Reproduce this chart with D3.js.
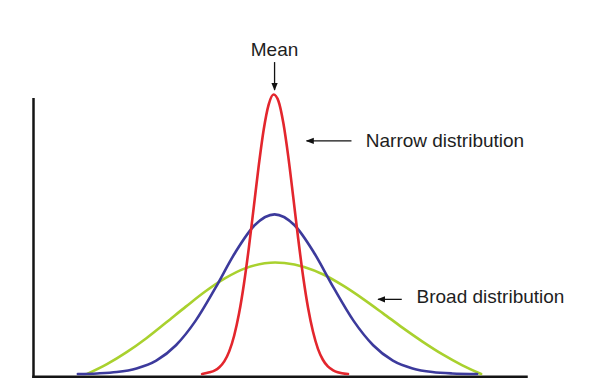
<!DOCTYPE html>
<html>
<head>
<meta charset="utf-8">
<script src="https://cdn.jsdelivr.net/npm/d3@7/dist/d3.min.js"></script>
<style>
  html, body { margin: 0; padding: 0; background: #fff; }
  svg { display: block; }
  text { font-family: "Liberation Sans", Arial, Helvetica, sans-serif; fill: #1e1e1e; }
</style>
</head>
<body>
<svg id="chart" width="596" height="383"></svg>
<script>
// ---- data ----
const narrowX = [34.3, 35.8, 36.8, 37.8, 38.8, 39.8, 40.8, 41.8, 42.8, 43.8, 44.8, 45.8, 46.8, 47.8, 48.8, 49.8, 50.8, 51.8, 52.8, 53.8, 54.8, 55.8, 56.8, 57.8, 58.8, 59.8, 60.8, 61.8, 63.9];
const narrowY = [0, 0.6, 1.2, 2.4, 4.5, 8.1, 13.7, 21.7, 32.4, 45.4, 60.0, 74.7, 87.5, 96.4, 100, 97.6, 89.6, 77.5, 63.1, 48.3, 34.8, 23.6, 15.1, 9.0, 5.1, 2.7, 1.4, 0.6, 0];

const mediumX = [9.1, 13, 17, 21, 25, 29, 33, 37, 41, 45, 49, 53, 57, 61, 65, 69, 73, 77, 81, 85, 90.1];
const mediumY = [0, 0.2, 0.7, 2.0, 4.8, 10.3, 19.1, 30.8, 43.4, 53.3, 57.1, 53.3, 43.4, 30.8, 19.1, 10.3, 4.8, 2.0, 0.7, 0.2, 0];

const broadX = [11.0, 15, 19, 23, 27, 31, 35, 39, 43, 47, 49.1, 51, 55, 59, 63, 67, 71, 75, 79, 83, 87, 90.9];
const broadY = [0, 3.5, 7.8, 12.8, 18.4, 24.1, 29.6, 34.3, 37.8, 39.6, 39.9, 39.7, 38.3, 35.5, 31.5, 26.8, 21.7, 16.5, 11.6, 7.1, 3.2, 0];

const labelTexts = ["Mean", "Narrow distribution", "Broad distribution"];

// ---- layout ----
const svg = d3.select("#chart");
const x = d3.scaleLinear().domain([0, 100]).range([33, 526]);
const y = d3.scaleLinear().domain([0, 100]).range([374, 94.5]);

const series = [
  { xs: narrowX, ys: narrowY, color: "#e3262d" },
  { xs: mediumX, ys: mediumY, color: "#3c3a9c" },
  { xs: broadX,  ys: broadY,  color: "#a9d12e" }
];

// axes (domain lines only)
const xAxisScale = x.copy();
const yAxisScale = y.copy().domain([-0.8, 98.5]).range([y(-0.8), y(98.5)]);

const gx = svg.append("g")
  .attr("transform", `translate(0,${y(-0.8)})`)
  .call(d3.axisBottom(xAxisScale).tickValues([]).tickSizeOuter(0));
const gy = svg.append("g")
  .attr("transform", `translate(${x(0)},0)`)
  .call(d3.axisLeft(yAxisScale).tickValues([]).tickSizeOuter(0));
[gx, gy].forEach(g => g.select(".domain")
  .attr("stroke", "#141414").attr("stroke-width", 2.5).attr("stroke-linecap", "square"));

// curves
const line = d3.line().curve(d3.curveMonotoneX);
series.slice().reverse().forEach(s => {
  const pts = s.xs.map((v, i) => [x(v), y(s.ys[i])]);
  svg.append("path")
    .attr("d", line(pts))
    .attr("fill", "none")
    .attr("stroke", s.color)
    .attr("stroke-width", 2.6)
    .attr("stroke-linejoin", "round")
    .attr("stroke-linecap", "round");
});

// arrow marker
svg.append("defs").append("marker")
  .attr("id", "ah")
  .attr("viewBox", "0 0 10 10")
  .attr("refX", 9).attr("refY", 5)
  .attr("markerUnits", "userSpaceOnUse")
  .attr("markerWidth", 8).attr("markerHeight", 8)
  .attr("orient", "auto")
  .append("path").attr("d", "M0,1 L10,5 L0,9 Z").attr("fill", "#111");

// annotations (positions in data units)
const annotations = [
  { text: labelTexts[0], tx: 49.0, ty: 113.8, anchor: "middle", ax1: 49.0, ay1: 111.6, ax2: 49.0, ay2: 101.6 },
  { text: labelTexts[1], tx: 67.5, ty: 81.3,  anchor: "start",  ax1: 64.6, ay1: 83.4,  ax2: 55.5, ay2: 83.4 },
  { text: labelTexts[2], tx: 77.8, ty: 25.3,  anchor: "start",  ax1: 74.8, ay1: 26.7,  ax2: 70.0, ay2: 26.7 }
];

annotations.forEach(a => {
  svg.append("line")
    .attr("x1", x(a.ax1)).attr("y1", y(a.ay1))
    .attr("x2", x(a.ax2)).attr("y2", y(a.ay2))
    .attr("stroke", "#111").attr("stroke-width", 1.3)
    .attr("marker-end", "url(#ah)");
  svg.append("text")
    .attr("x", x(a.tx)).attr("y", y(a.ty))
    .attr("text-anchor", a.anchor)
    .attr("font-size", 19)
    .text(a.text);
});
</script>
</body>
</html>
